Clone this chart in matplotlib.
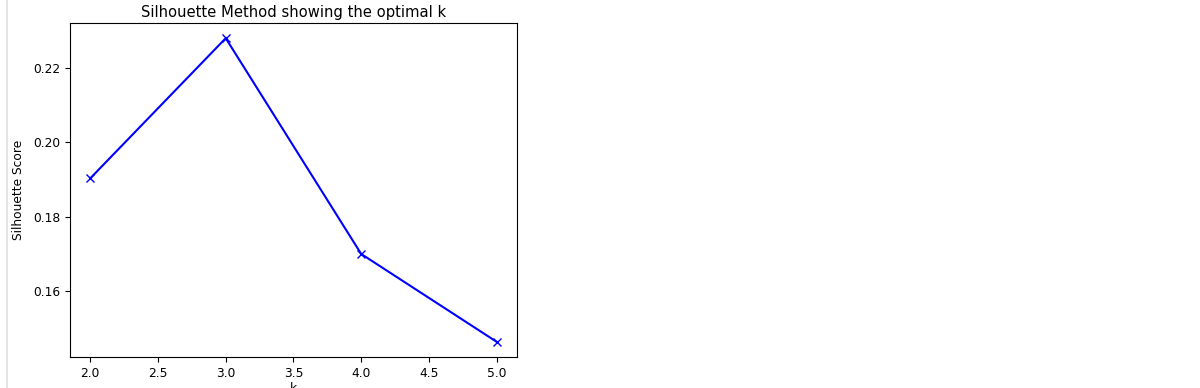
import numpy as np
import matplotlib.pyplot as plt
from matplotlib.lines import Line2D

k_values = [2, 3, 4, 5]
silhouette_scores = [0.1903, 0.2281, 0.1699, 0.1462]

plt.rcParams['font.size'] = 8.8

fig = plt.figure(figsize=(12, 3.88), dpi=100)
ax = fig.add_axes([0.0583, 0.0799, 0.3725, 0.8608])

ax.plot(k_values, silhouette_scores, 'bx-')
ax.set_title('Silhouette Method showing the optimal k', fontsize=10.6, pad=4)
ax.set_ylabel('Silhouette Score', labelpad=6)
ax.set_xlabel('k', labelpad=2)

# light notebook border on the left
fig.add_artist(Line2D([0.0055, 0.0055], [0, 1], color='#e0e0e0', lw=1.2, transform=fig.transFigure))

fig.savefig('out.png', dpi=100)
